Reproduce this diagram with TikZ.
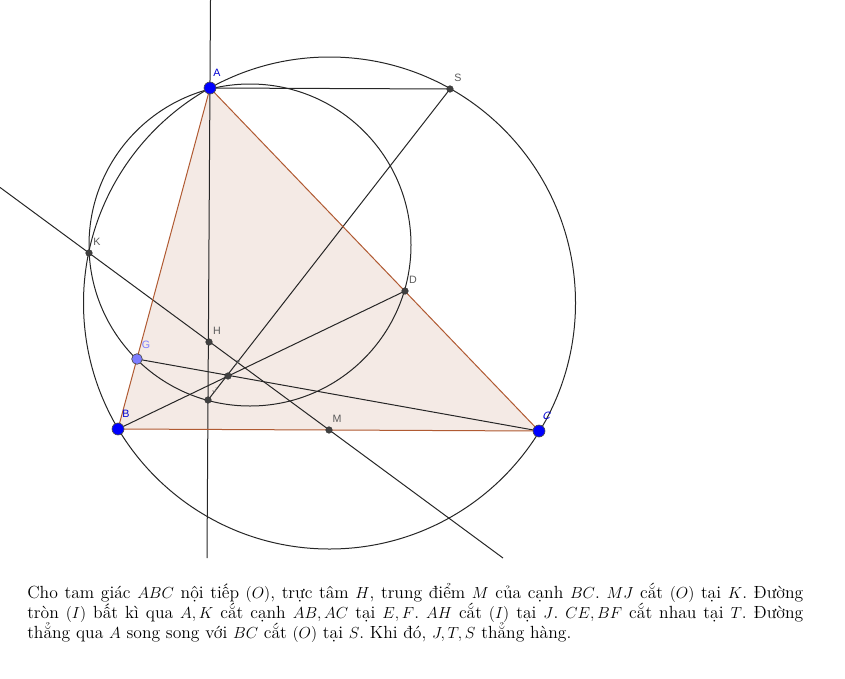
\documentclass[tikz,border=0pt]{standalone}
\usepackage{fontspec}
\newfontfamily\lblfont{Liberation Sans}
\definecolor{trifill}{RGB}{244,234,229}
\definecolor{triedge}{RGB}{176,90,50}
\definecolor{ptblue}{RGB}{0,0,255}
\definecolor{ptlight}{RGB}{125,125,255}
\definecolor{ptgray}{RGB}{64,64,64}
\definecolor{lblgray}{RGB}{90,90,90}
\definecolor{lblblue}{RGB}{0,0,210}
\begin{document}
\begin{tikzpicture}[x=0.75pt,y=-0.75pt,
  geoline/.style={line width=0.75pt,black!85},
  bigpt/.style={circle,draw=black!70,line width=0.5pt,fill=ptblue,minimum size=9pt,inner sep=0pt},
  lightpt/.style={circle,draw=black!70,line width=0.5pt,fill=ptlight,minimum size=8pt,inner sep=0pt},
  smallpt/.style={circle,fill=ptgray,draw=black!80,line width=0.3pt,minimum size=5pt,inner sep=0pt},
  lbl/.style={font=\lblfont\fontsize{8}{9}\selectfont,text=lblgray,inner sep=0pt},
  lblb/.style={lbl,text=lblblue},
  lblg/.style={lbl,text=ptlight},
  tinylbl/.style={font=\lblfont\fontsize{5.5}{6}\selectfont,text=lblgray,inner sep=0pt}]
\useasboundingbox (0,0) rectangle (845,678);
% points
\coordinate (A) at (210,88);
\coordinate (B) at (118,429);
\coordinate (C) at (539,431);
\coordinate (S) at (450,89);
\coordinate (M) at (329,430);
\coordinate (K) at (89,253);
\coordinate (D) at (405,291);
\coordinate (H) at (209,342);
\coordinate (T) at (228,376);
\coordinate (J) at (208,400);
\coordinate (G) at (137,359);
\coordinate (O) at (329.5,303);
\coordinate (I) at (250,245);
\coordinate (vtop) at (210.5,0);
\coordinate (vbot) at (207,558);
\coordinate (kmL) at (0,187.4);
\coordinate (kmR) at (503,558);
% triangle fill
\fill[trifill] (A) -- (B) -- (C) -- cycle;
% circles
\draw[geoline] (O) circle[radius=184.5pt];
\draw[geoline] (I) circle[radius=120.75pt];
% lines
\draw[geoline] (vtop) -- (vbot);
\draw[geoline] (kmL) -- (kmR);
\draw[geoline] (A) -- (S);
\draw[geoline] (S) -- (J);
\draw[geoline] (B) -- (D);
\draw[geoline] (C) -- (G);
% triangle edges
\draw[triedge,line width=0.75pt] (A) -- (B) -- (C) -- cycle;
% dots
\node[smallpt] (pS) at (S) {};
\node[smallpt] (pK) at (K) {};
\node[smallpt] (pD) at (D) {};
\node[smallpt] (pH) at (H) {};
\node[smallpt] (pT) at (T) {};
\node[smallpt] (pJ) at (J) {};
\node[smallpt] (pM) at (M) {};
\node[lightpt] (pG) at (G) {};
\node[bigpt] (pA) at (A) {};
\node[bigpt] (pB) at (B) {};
\node[bigpt] (pC) at (C) {};
% labels
\node[lblb] (lA) at (217,73) {A};
\node[lblb] (lB) at (126,414) {B};
\node[lblb,xslant=0.3] (lC) at (547,416) {C};
\node[lblg] (lG) at (146,345) {G};
\node[lbl] (lS) at (458,78) {S};
\node[lbl] (lK) at (97,242) {K};
\node[lbl] (lD) at (413,280) {D};
\node[lbl] (lH) at (217,331) {H};
\node[lbl] (lM) at (337,419) {M};
\node[tinylbl,rotate=-30] (lT) at (237,363) {T};
\node[tinylbl,rotate=-30] (lJ) at (215,390) {J};
% text
\node[anchor=north west,text width=582pt,align=justify,inner sep=0pt] (txt) at (27,583)
{\frenchspacing\fontsize{13.2}{15}\selectfont Cho tam giác $ABC$ nội tiếp $(O)$, trực tâm $H$, trung điểm $M$ của cạnh $BC$. $MJ$ cắt $(O)$ tại $K$. Đường\linebreak
tròn $(I)$ bất kì qua $A,K$ cắt cạnh $AB,AC$ tại $E,F$. $AH$ cắt $(I)$ tại $J$. $CE,BF$ cắt nhau tại $T$. Đường\linebreak
thẳng qua $A$ song song với $BC$ cắt $(O)$ tại $S$. Khi đó, $J,T,S$ thẳng hàng.\par};
\end{tikzpicture}
\end{document}
